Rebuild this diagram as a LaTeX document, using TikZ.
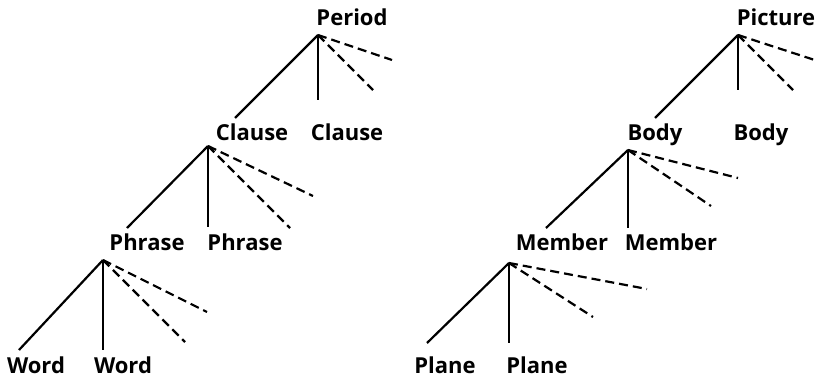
\documentclass[tikz,border=0pt]{standalone}
\usepackage{fontspec}
\setmainfont{Open Sans}
\begin{document}
\begin{tikzpicture}[x=1pt,y=-1pt,
  lbl/.style={font=\fontsize{22}{24}\selectfont\bfseries, inner sep=0pt, anchor=base},
  solidline/.style={line width=2.2pt},
  dashline/.style={line width=2.2pt, dash pattern=on 9pt off 5pt}]
\useasboundingbox (0,0) rectangle (815,380);
\clip (0,0) rectangle (815,380);
% ---- left tree ----
\node[lbl] (period) at (352,26) {Period};
\coordinate (pa) at (318,35);
\node[lbl] (clauseL) at (252,140) {Clause};
\node[lbl] (clauseR) at (347,140) {Clause};
\coordinate (p1) at (235,118);
\coordinate (p2) at (318,100);
\coordinate (p3) at (392,60);
\coordinate (p4) at (373,90);
\draw[solidline] (pa) -- (p1);
\draw[solidline] (pa) -- (p2);
\draw[dashline] (pa) -- (p3);
\draw[dashline] (pa) -- (p4);

\coordinate (ca) at (208,146);
\node[lbl] (phraseL) at (147,250) {Phrase};
\node[lbl] (phraseR) at (245,250) {Phrase};
\coordinate (c1) at (127,228);
\coordinate (c2) at (208,227);
\coordinate (c3) at (313,196);
\coordinate (c4) at (290,228);
\draw[solidline] (ca) -- (c1);
\draw[solidline] (ca) -- (c2);
\draw[dashline] (ca) -- (c3);
\draw[dashline] (ca) -- (c4);

\coordinate (ha) at (103,260);
\node[lbl] (wordL) at (36,373) {Word};
\node[lbl] (wordR) at (123,373) {Word};
\coordinate (h1) at (19,350);
\coordinate (h2) at (103,350);
\coordinate (h3) at (207,312);
\coordinate (h4) at (185,342);
\draw[solidline] (ha) -- (h1);
\draw[solidline] (ha) -- (h2);
\draw[dashline] (ha) -- (h3);
\draw[dashline] (ha) -- (h4);

% ---- right tree ----
\node[lbl] (picture) at (776,26) {Picture};
\coordinate (qa) at (738,35);
\node[lbl] (bodyL) at (655,140) {Body};
\node[lbl] (bodyR) at (761,140) {Body};
\coordinate (q1) at (655,118);
\coordinate (q2) at (738,90);
\coordinate (q3) at (830,65);
\coordinate (q4) at (793,90);
\draw[solidline] (qa) -- (q1);
\draw[solidline] (qa) -- (q2);
\draw[dashline] (qa) -- (q3);
\draw[dashline] (qa) -- (q4);

\coordinate (ba) at (628,150);
\node[lbl] (memberL) at (562,250) {Member};
\node[lbl] (memberR) at (671,250) {Member};
\coordinate (b1) at (546,228);
\coordinate (b2) at (628,228);
\coordinate (b3) at (738,178);
\coordinate (b4) at (711,206);
\draw[solidline] (ba) -- (b1);
\draw[solidline] (ba) -- (b2);
\draw[dashline] (ba) -- (b3);
\draw[dashline] (ba) -- (b4);

\coordinate (ma) at (509,263);
\node[lbl] (planeL) at (445,373) {Plane};
\node[lbl] (planeR) at (537,373) {Plane};
\coordinate (m1) at (427,343);
\coordinate (m2) at (509,343);
\coordinate (m3) at (647,289);
\coordinate (m4) at (593,317);
\draw[solidline] (ma) -- (m1);
\draw[solidline] (ma) -- (m2);
\draw[dashline] (ma) -- (m3);
\draw[dashline] (ma) -- (m4);
\end{tikzpicture}
\end{document}
